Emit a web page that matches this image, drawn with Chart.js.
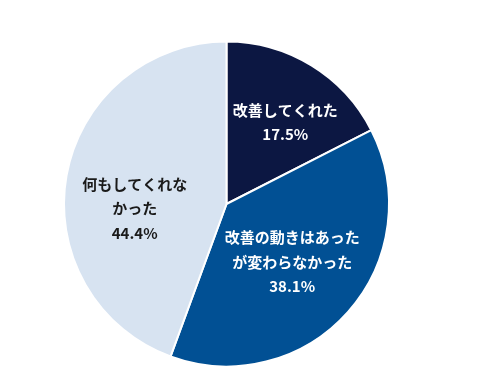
<!DOCTYPE html>
<html>
<head>
<meta charset="utf-8">
<script src="https://cdn.jsdelivr.net/npm/chart.js@4.4.0/dist/chart.umd.min.js"></script>
<style>
  html, body { margin: 0; padding: 0; background: #ffffff; }
  #wrap { width: 485px; height: 375px; }
</style>
</head>
<body>
<div id="wrap"><canvas id="pieChart" width="485" height="375"></canvas></div>
<script>
// Chart data
const categories = ['改善してくれた', '改善の動きはあったが変わらなかった', '何もしてくれなかった'];
const labelLines = [
    ['改善してくれた'],
    ['改善の動きはあった', 'が変わらなかった'],
    ['何もしてくれな', 'かった']
];
const percentages = [17.5, 38.1, 44.4];
const sliceColors = ['#0c1742', '#015094', '#d7e3f1'];
const textColors = ['#ffffff', '#ffffff', '#1a1a1a'];

// label placement: fraction of radius along the slice mid-angle, plus a small nudge
const labelRadius = [0.61, 0.54, 0.58];
const labelNudge = [[7, 3], [0, 0], [1, 21]];

const sliceLabels = {
    id: 'sliceLabels',
    afterDatasetsDraw(chart) {
        const ctx = chart.ctx;
        const meta = chart.getDatasetMeta(0);
        ctx.save();
        ctx.font = 'bold 15px "Noto Sans CJK JP", "Noto Sans", sans-serif';
        ctx.textAlign = 'center';
        ctx.textBaseline = 'middle';
        meta.data.forEach((arc, i) => {
            const p = arc.getProps(['x', 'y', 'startAngle', 'endAngle', 'outerRadius'], true);
            const mid = (p.startAngle + p.endAngle) / 2;
            const r = p.outerRadius * labelRadius[i];
            const lines = labelLines[i].concat([percentages[i].toFixed(1) + '%']);
            const lineH = 24.5;
            const cx = p.x + Math.cos(mid) * r + labelNudge[i][0];
            const cy = p.y + Math.sin(mid) * r + labelNudge[i][1];
            const top = cy - (lines.length - 1) * lineH / 2;
            ctx.fillStyle = textColors[i];
            lines.forEach((line, k) => {
                ctx.fillText(line, cx, top + k * lineH);
            });
        });
        ctx.restore();
    }
};

const ctx = document.getElementById('pieChart').getContext('2d');
new Chart(ctx, {
    type: 'pie',
    data: {
        labels: categories,
        datasets: [{
            data: percentages,
            backgroundColor: sliceColors,
            borderColor: '#ffffff',
            borderWidth: 2
        }]
    },
    options: {
        responsive: false,
        animation: false,
        layout: { padding: { left: 63, right: 95, top: 40, bottom: 7 } },
        plugins: {
            legend: { display: false },
            tooltip: { enabled: false }
        }
    },
    plugins: [sliceLabels]
});
</script>
</body>
</html>
